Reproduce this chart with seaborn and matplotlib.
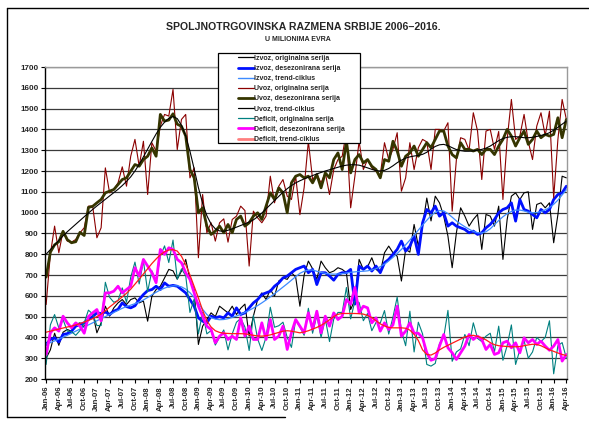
import numpy as np
import matplotlib
matplotlib.use("Agg")
import matplotlib.pyplot as plt
import seaborn as sns
from matplotlib.lines import Line2D

# ---------------- data (monthly, Jan-06 .. Apr-16) ----------------
izvoz_orig = [
    300, 340, 420, 362, 425, 438, 430, 462, 470, 450, 500, 518,
    422, 470, 550, 502, 542, 566, 582, 558, 582, 590, 566, 575,
    478, 598, 630, 646, 686, 727, 720, 680, 719, 775, 679, 630,
    366, 454, 486, 518, 500, 550, 534, 518, 550, 510, 540, 560,
    406, 502, 582, 614, 582, 630, 598, 671, 686, 679, 711, 690,
    550, 700, 767, 730, 679, 767, 735, 711, 719, 735, 727, 711,
    534, 580, 775, 727, 740, 783, 727, 711, 807, 839, 807, 790,
    671, 823, 810, 943, 839, 935, 1070, 960, 1079, 1047, 983, 887,
    735, 903, 1023, 983, 935, 967, 991, 823, 991, 983, 935, 1031,
    775, 967, 1079, 1095, 1063, 1095, 1100, 919, 1039, 1047, 1023, 1047,
    855, 990, 1175, 1167]
izvoz_desez = [
    366, 390, 398, 378, 414, 418, 430, 454, 462, 470, 486, 500,
    518, 515, 522, 510, 526, 535, 566, 548, 542, 552, 582, 606,
    625, 630, 646, 630, 662, 646, 650, 646, 630, 614, 582, 550,
    494, 478, 470, 502, 494, 500, 494, 518, 502, 542, 510, 518,
    542, 566, 582, 606, 614, 622, 646, 662, 686, 695, 711, 727,
    735, 743, 711, 727, 654, 711, 711, 695, 675, 703, 711, 711,
    727, 560, 743, 727, 743, 719, 743, 711, 759, 775, 799, 823,
    863, 815, 839, 887, 799, 951, 1015, 999, 1031, 983, 999, 935,
    951, 935, 927, 919, 903, 911, 895, 903, 927, 943, 967, 999,
    1015, 1023, 1047, 959, 1063, 1015, 1007, 991, 975, 1015, 999, 1015,
    1063, 1087, 1095, 1127]
izvoz_trend = [
    368, 375, 383, 392, 401, 410, 420, 430, 440, 450, 460, 470,
    480, 490, 500, 510, 520, 530, 540, 548, 555, 562, 570, 580,
    592, 605, 617, 628, 637, 644, 648, 648, 643, 632, 615, 592,
    565, 535, 510, 495, 488, 485, 486, 490, 496, 503, 511, 520,
    530, 541, 553, 566, 580, 595, 610, 626, 642, 658, 675, 692,
    708, 718, 724, 724, 718, 712, 708, 705, 704, 705, 707, 710,
    713, 715, 717, 718, 720, 724, 730, 740, 752, 768, 785, 803,
    823, 845, 868, 892, 916, 940, 963, 985, 1002, 1010, 1008, 995,
    978, 960, 945, 932, 920, 910, 903, 902, 908, 922, 942, 962,
    980, 995, 1005, 1012, 1012, 1008, 1002, 999, 1000, 1005, 1013, 1024,
    1040, 1060, 1085, 1110]
uvoz_orig = [
    558, 800, 935, 807, 911, 863, 858, 871, 903, 927, 1031, 1031,
    879, 927, 1215, 1095, 1111, 1143, 1220, 1127, 1271, 1352, 1223, 1343,
    1087, 1336, 1296, 1416, 1472, 1464, 1592, 1303, 1448, 1472, 1167, 1215,
    783, 1087, 903, 951, 863, 951, 970, 858, 967, 983, 1031, 1010,
    743, 1007, 975, 951, 983, 1175, 1047, 1127, 1159, 1079, 1063, 1175,
    990, 1120, 1343, 1159, 1183, 1143, 1191, 1087, 1207, 1255, 1271, 1392,
    1023, 1175, 1343, 1207, 1255, 1215, 1199, 1180, 1336, 1255, 1304, 1384,
    1103, 1167, 1336, 1207, 1312, 1352, 1340, 1207, 1400, 1400, 1392, 1432,
    1007, 1255, 1360, 1352, 1300, 1480, 1392, 1159, 1392, 1400, 1304, 1390,
    1063, 1352, 1544, 1352, 1368, 1472, 1340, 1255, 1416, 1480, 1370, 1488,
    1071, 1352, 1544, 1448]
uvoz_desez = [
    690, 810, 845, 860, 910, 870, 855, 860, 905, 890, 1025, 1030,
    1047, 1063, 1095, 1103, 1111, 1135, 1159, 1167, 1199, 1231, 1223, 1255,
    1271, 1311, 1271, 1472, 1440, 1445, 1475, 1425, 1415, 1368, 1207, 1167,
    999, 1023, 935, 895, 911, 935, 903, 943, 903, 967, 983, 935,
    951, 983, 999, 967, 1031, 1095, 1063, 1119, 1095, 999, 1143, 1175,
    1183, 1167, 1175, 1143, 1183, 1119, 1191, 1167, 1255, 1287, 1207, 1343,
    1191, 1255, 1279, 1239, 1255, 1223, 1207, 1167, 1255, 1247, 1343, 1296,
    1223, 1271, 1287, 1320, 1271, 1303, 1336, 1312, 1352, 1392, 1392, 1320,
    1279, 1263, 1336, 1304, 1304, 1296, 1304, 1279, 1304, 1304, 1279, 1320,
    1352, 1400, 1368, 1320, 1360, 1392, 1328, 1352, 1392, 1360, 1376, 1368,
    1376, 1456, 1360, 1448]
uvoz_trend = [
    800, 822, 844, 866, 888, 908, 926, 944, 962, 980, 998, 1015,
    1032, 1048, 1064, 1080, 1096, 1112, 1130, 1150, 1172, 1200, 1232, 1268,
    1305, 1342, 1378, 1410, 1435, 1453, 1462, 1452, 1420, 1368, 1295, 1210,
    1120, 1045, 985, 945, 922, 912, 910, 915, 922, 930, 938, 946,
    955, 965, 980, 998, 1018, 1038, 1058, 1078, 1098, 1115, 1130, 1143,
    1153, 1162, 1170, 1178, 1186, 1193, 1200, 1206, 1212, 1218, 1224, 1228,
    1230, 1230, 1228, 1222, 1215, 1208, 1202, 1200, 1203, 1212, 1225, 1240,
    1252, 1262, 1268, 1272, 1275, 1280, 1290, 1305, 1318, 1326, 1328, 1322,
    1312, 1303, 1298, 1295, 1295, 1297, 1300, 1304, 1310, 1320, 1333, 1346,
    1356, 1362, 1365, 1365, 1363, 1360, 1360, 1362, 1366, 1371, 1376, 1384,
    1396, 1410, 1425, 1440]
deficit_orig = [
    270, 460, 510, 445, 486, 430, 428, 410, 433, 470, 531, 513,
    457, 457, 665, 593, 569, 577, 638, 569, 689, 762, 657, 768,
    620, 720, 670, 790, 840, 760, 868, 680, 729, 697, 520, 585,
    417, 520, 417, 433, 363, 401, 436, 340, 417, 473, 491, 450,
    337, 505, 393, 337, 401, 545, 449, 456, 473, 400, 352, 485,
    450, 410, 540, 420, 505, 400, 490, 380, 488, 520, 520, 640,
    489, 575, 568, 480, 515, 432, 472, 469, 529, 416, 497, 594,
    432, 360, 526, 330, 473, 417, 270, 262, 275, 370, 400, 530,
    285, 330, 345, 414, 360, 470, 395, 380, 406, 420, 330, 454,
    290, 360, 460, 270, 340, 385, 300, 330, 400, 380, 400, 480,
    225, 360, 375, 300]
deficit_desez = [
    318, 422, 446, 430, 502, 470, 446, 470, 454, 420, 500, 518,
    534, 480, 614, 614, 622, 646, 614, 630, 646, 735, 695, 775,
    743, 711, 663, 823, 799, 831, 823, 775, 759, 711, 679, 614,
    550, 502, 454, 438, 374, 406, 422, 390, 406, 390, 494, 406,
    454, 390, 390, 470, 390, 486, 390, 406, 454, 342, 422, 486,
    454, 422, 518, 440, 526, 422, 502, 454, 518, 486, 502, 582,
    560, 640, 518, 550, 542, 470, 494, 430, 470, 438, 460, 550,
    406, 430, 470, 420, 420, 398, 326, 290, 298, 358, 414, 350,
    326, 294, 326, 358, 414, 390, 406, 390, 342, 366, 318, 326,
    374, 382, 350, 374, 326, 398, 374, 390, 366, 382, 358, 338,
    358, 390, 286, 318]
deficit_trend = [
    425, 430, 435, 440, 445, 450, 454, 460, 466, 474, 482, 490,
    500, 512, 528, 546, 562, 578, 595, 612, 632, 656, 680, 705,
    730, 755, 777, 797, 812, 820, 822, 815, 790, 750, 700, 645,
    590, 530, 480, 450, 432, 424, 420, 419, 418, 418, 418, 417,
    414, 410, 407, 406, 408, 412, 418, 424, 430, 432, 430, 426,
    422, 426, 432, 440, 448, 458, 470, 485, 500, 511, 515, 515,
    515, 515, 514, 512, 505, 495, 480, 465, 455, 448, 446, 446,
    446, 444, 435, 415, 385, 340, 318, 315, 325, 340, 352, 362,
    372, 382, 392, 402, 408, 410, 405, 398, 388, 375, 365, 360,
    358, 356, 355, 355, 356, 360, 364, 367, 366, 360, 350, 340,
    333, 325, 318, 313]

tick_labels = [
    "Jan-06", "Apr-06", "Jul-06", "Oct-06", "Jan-07", "Apr-07", "Jul-07", "Oct-07",
    "Jan-08", "Apr-08", "Jul-08", "Oct-08", "Jan-09", "Apr-09", "Jul-09", "Oct-09",
    "Jan-10", "Apr-10", "Jul-10", "Oct-10", "Jan-11", "Apr-11", "Jul-11", "Oct-11",
    "Jan-12", "Apr-12", "Jul-12", "Oct-12", "Jan-13", "Apr-13", "Jul-13", "Oct-13",
    "Jan-14", "Apr-14", "Jul-14", "Oct-14", "Jan-15", "Apr-15", "Jul-15", "Oct-15",
    "Jan-16", "Apr-16"]

series_labels = [
    "Izvoz, originalna serija", "Izvoz, desezonirana serija", "Izvoz, trend-ciklus",
    "Uvoz, originalna serija", "Uvoz, desezonirana serija", "Uvoz, trend-ciklus",
    "Deficit, originalna serija", "Deficit, desezonirana serija", "Deficit, trend-ciklus"]

title = "SPOLJNOTRGOVINSKA RAZMENA SRBIJE 2006\u20132016."
subtitle = "U MILIONIMA EVRA"

# ---------------- style ----------------
sns.set_theme(style="white")
plt.rcParams["font.family"] = ["Liberation Sans", "DejaVu Sans"]

fig = plt.figure(figsize=(5.89, 4.21), dpi=100)
L, R, T, B = 45.5, 567.0, 67.0, 379.0
ax = fig.add_axes([L / 589, 1 - B / 421, (R - L) / 589, (B - T) / 421])

data = [izvoz_orig, izvoz_desez, izvoz_trend, uvoz_orig, uvoz_desez, uvoz_trend,
        deficit_orig, deficit_desez, deficit_trend]
styles = [("#000000", 0.8), ("#0010FF", 2.0), ("#3D8BFF", 0.9),
          ("#8B0000", 0.8), ("#353500", 2.0), ("#000000", 0.8),
          ("#008080", 0.8), ("#FF00FF", 2.0), ("#FF1A1A", 0.9)]
legend_styles = [("#000000", 0.9), ("#0010FF", 2.0), ("#3D8BFF", 1.0),
                 ("#8B0000", 0.9), ("#353500", 2.0), ("#000000", 0.9),
                 ("#008080", 0.9), ("#FF00FF", 2.0), ("#FF7F7F", 2.0)]

for lab, vals, (col, lw) in zip(series_labels, data, styles):
    x = np.arange(len(vals))
    sns.lineplot(x=x, y=vals, color=col, linewidth=lw, ax=ax, label=lab, legend=False)

ax.set_ylim(200, 1700)
ax.set_yticks(np.arange(200, 1701, 100))
ax.set_xlim(-0.15, 123.15)
ax.set_xticks(np.arange(0, 124, 3))
ax.set_xticklabels(tick_labels, rotation=90, fontsize=5.6, fontweight="bold")
for t in ax.get_yticklabels():
    t.set_fontsize(5.8)
    t.set_fontweight("bold")
ax.set_xlabel("")
ax.set_ylabel("")

ax.yaxis.grid(True, color="#3a3a3a", linewidth=0.9)
ax.xaxis.grid(False)
ax.set_axisbelow(True)
ax.tick_params(axis="both", which="both", bottom=True, left=True, direction="out",
               length=3, width=0.8, color="black", pad=2)

for s in ["left", "bottom"]:
    ax.spines[s].set_color("black")
    ax.spines[s].set_linewidth(1.0)
for s in ["top", "right"]:
    ax.spines[s].set_color("#9a9a9a")
    ax.spines[s].set_linewidth(1.0)

# legend box (white, black frame) and frameless legend inside it
box = plt.Rectangle((218 / 589, 1 - 143 / 421), 142 / 589, 90 / 421,
                    transform=fig.transFigure, facecolor="white",
                    edgecolor="black", linewidth=0.9, zorder=4)
fig.patches.append(box)
handles = ax.get_lines()[:9]
leg = fig.legend(handles, series_labels, loc="upper left",
                 bbox_to_anchor=(236 / 589, 1 - 52.5 / 421),
                 bbox_transform=fig.transFigure, frameon=False,
                 prop={"size": 5.0, "weight": "bold"}, handlelength=2.2,
                 handletextpad=0.1, labelspacing=0.45, borderpad=0.35,
                 borderaxespad=0)
leg.set_zorder(5)
for ln, (col, lw) in zip(leg.get_lines(), legend_styles):
    ln.set_color(col)
    ln.set_linewidth(lw)

fig.text(303 / 589, 1 - 27 / 421, title, ha="center", va="center",
         fontsize=7.6, fontweight="bold")
fig.text(298 / 589, 1 - 39.5 / 421, subtitle, ha="center", va="center",
         fontsize=5.0, fontweight="bold")

# outer frame lines (left, top, partial bottom) as seen in the reference
W, H = 589, 421
for xs, ys in [((7, 7), (8, 417)), ((7, 589), (8, 8)), ((7, 285), (417, 417))]:
    fig.lines.append(Line2D([v / W for v in xs], [1 - v / H for v in ys],
                            transform=fig.transFigure, color="black",
                            linewidth=1.0, zorder=3))

fig.savefig("out.png", dpi=100)
